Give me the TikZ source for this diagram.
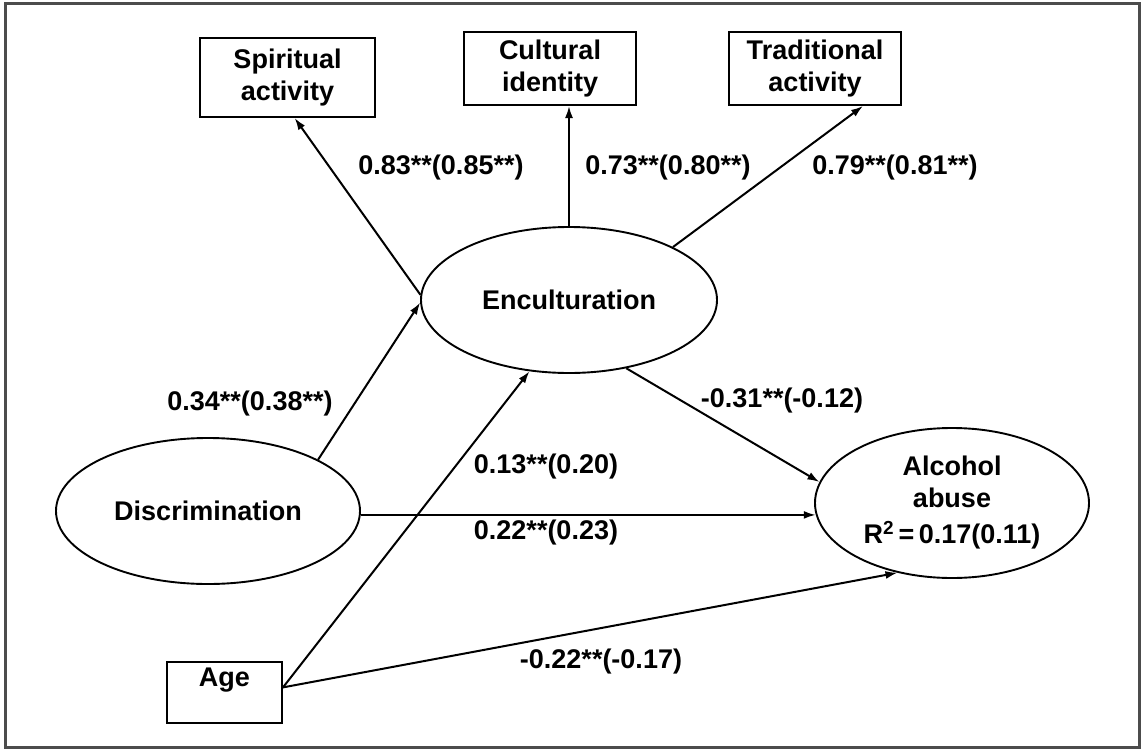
\documentclass[tikz,border=0pt]{standalone}
\usepackage{fontspec}
\setmainfont{Liberation Sans}
\usetikzlibrary{arrows.meta,shapes.geometric}
\begin{document}
\begin{tikzpicture}[x=1pt,y=-1pt,
  every node/.style={font=\bfseries\fontsize{27}{32}\selectfont, text=black},
  ell/.style={draw, ellipse, line width=1.9pt, inner sep=0pt, align=center},
  box/.style={draw, rectangle, line width=2pt, inner sep=0pt, align=center},
  arr/.style={line width=2pt, -{Latex[length=12pt,width=8pt]}},
  lab/.style={inner sep=0pt}]
\useasboundingbox (0,0) rectangle (1144,750);
\draw[line width=3pt, black!70] (5,3) rectangle (1139,747);

% measured variables
\node[box, minimum width=175pt, minimum height=79pt] (spirit) at (287.5,77.5) {Spiritual\\activity};
\node[box, minimum width=172pt, minimum height=73pt] (cult) at (550,68.5) {Cultural\\identity};
\node[box, minimum width=172pt, minimum height=73pt] (trad) at (815,68.5) {Traditional\\activity};
\node[box, minimum width=115pt, minimum height=61pt,
      label={[anchor=north, inner sep=7pt]north:Age}] (age) at (224.5,692.5) {};

% latent variables
\node[ell, minimum width=296pt, minimum height=146pt] (encul) at (569,300) {Enculturation};
\node[ell, minimum width=304pt, minimum height=146pt] (disc) at (208,511) {Discrimination};
\node[ell, minimum width=274pt, minimum height=150pt] (alc) at (952,503)
  {Alcohol\\abuse\\[4pt]R\textsuperscript{2}\,=\,0.17(0.11)};

% paths
\draw[arr] (encul.178) -- (spirit.-80);
\draw[arr] (encul.north) -- (encul.north |- cult.south);
\draw[arr] (encul.27) -- (trad.-38.6);
\draw[arr] (disc.25) -- (encul.181);
\draw[arr] (disc.east |- alc.185) -- (alc.185);
\draw[arr] (age.5) -- (encul.241);
\draw[arr] (age.5) -- (alc.232);
\draw[arr] (encul.-50) -- (alc.171);

% coefficients
\node[lab] (l1) at (441,168) {0.83**(0.85**)};
\node[lab] (l2) at (668,168) {0.73**(0.80**)};
\node[lab] (l3) at (895,168) {0.79**(0.81**)};
\node[lab] (l4) at (250,404) {0.34**(0.38**)};
\node[lab] (l5) at (546,467) {0.13**(0.20)};
\node[lab] (l6) at (546,533) {0.22**(0.23)};
\node[lab] (l7) at (782,401) {-0.31**(-0.12)};
\node[lab] (l8) at (601,662) {-0.22**(-0.17)};
\end{tikzpicture}
\end{document}
